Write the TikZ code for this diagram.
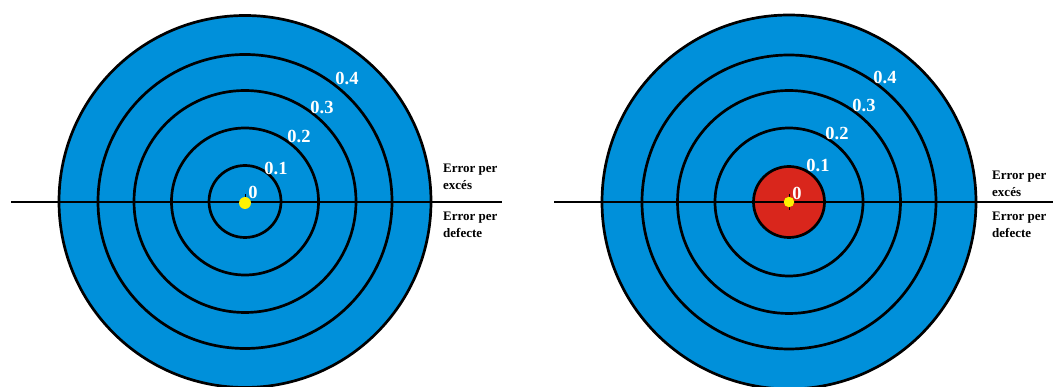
\documentclass[tikz,border=0pt]{standalone}
\usepackage{fontspec}
\setmainfont{Liberation Serif}
\usetikzlibrary{positioning,calc}
\definecolor{tgBlue}{HTML}{0090DA}
\definecolor{tgRed}{HTML}{D9261C}
\definecolor{tgYellow}{HTML}{FFF200}
\tikzset{
  tgDisc/.style={
    draw=black,
    fill=tgBlue,
    line width=2.7pt
  },
  tgRing/.style={
    draw=black,
    line width=2.7pt
  },
  tgBull/.style={
    tgRing,
    fill=tgRed
  },
  tgAxis/.style={
    draw=black,
    line width=1.6pt
  },
  tgDot/.style={
    circle,
    fill=tgYellow,
    minimum size=12pt,
    inner sep=0pt
  },
  tgValue/.style={
    text=white,
    font=\bfseries\fontsize{18.5}{18.5}\selectfont,
    inner sep=0pt
  },
  tgSide/.style={
    align=left,
    anchor=west,
    font=\bfseries\fontsize{13}{17}\selectfont,
    inner sep=0pt
  }
}

\begin{document}
\begin{tikzpicture}[x=1pt, y=-1pt]
  \useasboundingbox (0,0) rectangle (1053,387);
  \clip (0,0) rectangle (1053,387);

  % left target
  \coordinate (lc) at (245,201.5);
  \draw[tgDisc] (lc) circle (186);
  \foreach \r in {36,73.5,111,147} {
    \draw[tgRing] (lc) circle (\r);
  }
  \coordinate (lAxisW) at (11,202);
  \coordinate (lAxisE) at (502,202);
  \draw[tgAxis] (lAxisW) -- (lAxisE);
  \draw[line width=1pt] ($(lc)+(0,-7)$) -- (lc);
  \node[tgDot] (lDot) at (245,203) {};

  \foreach \v/\dx/\dy [count=\i] in {0/8/-9,0.1/31/-33,0.2/54/-65,0.3/77/-94,0.4/102/-123} {
    \node[tgValue] (lv\i) at ($(lc)+(\dx,\dy)$) {\v};
  }
  \node[tgSide] (lOver) at (443,177) {Error per\\excés};
  \node[tgSide] (lUnder) at (443,225) {Error per\\defecte};

  % right target
  \coordinate (rc) at (789,202);
  \draw[tgDisc] (rc) circle (187);
  \foreach \r in {74,111.5,147} {
    \draw[tgRing] (rc) circle (\r);
  }
  \draw[tgBull] (rc) circle (35.5);
  \coordinate (rAxisW) at (554,202);
  \coordinate (rAxisE) at (1053,202);
  \draw[tgAxis] (rAxisW) -- (rAxisE);
  \draw[line width=1pt] ($(rc)+(0,-8)$) -- ($(rc)+(0,8)$);
  \node[tgDot, minimum size=10.5pt] (rDot) at (rc) {};

  \foreach \v/\dx/\dy [count=\i] in {0/8/-9,0.1/29/-37,0.2/48/-69,0.3/75/-97,0.4/96/-125} {
    \node[tgValue] (rv\i) at ($(rc)+(\dx,\dy)$) {\v};
  }
  \node[tgSide] (rOver) at (992,184) {Error per\\excés};
  \node[tgSide] (rUnder) at (992,225) {Error per\\defecte};
\end{tikzpicture}
\end{document}
